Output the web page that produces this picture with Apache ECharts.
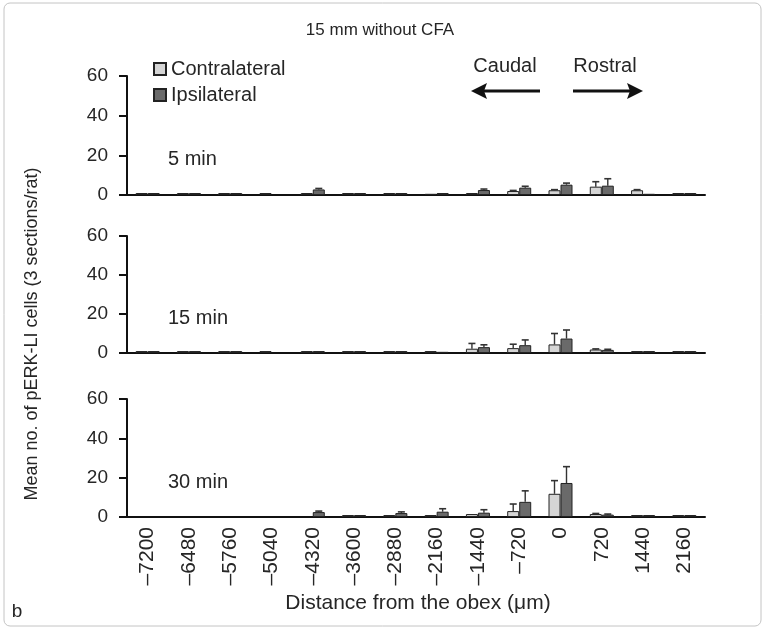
<!DOCTYPE html>
<html>
<head>
<meta charset="utf-8">
<script src="https://cdn.jsdelivr.net/npm/echarts@6/dist/echarts.min.js"></script>
<style>
  html, body { margin: 0; padding: 0; background: #fff; }
  #chart { width: 765px; height: 630px; }
</style>
</head>
<body>
<div id="chart"></div>
<script>
// distance from the obex (µm)
var categories = ['\u20137200', '\u20136480', '\u20135760', '\u20135040', '\u20134320', '\u20133600', '\u20132880',
                  '\u20132160', '\u20131440', '\u2013720', '0', '720', '1440', '2160'];
var panelNames = ['5 min', '15 min', '30 min'];

// 5 min
var contra5    = [1,   1,   1,   1,   1,   1,   1,   0.6, 1,   2.0, 2.4, 4.2, 2.4, 1];
var ipsi5      = [1,   1,   1,   0,   2.8, 1,   1,   1,   2.5, 3.7, 5.2, 4.7, 0.6, 1];
var contra5Err = [0,   0,   0,   0,   0,   0,   0,   0,   0,   0.3, 0.3, 2.5, 0.3, 0];
var ipsi5Err   = [0,   0,   0,   0,   0.5, 0,   0,   0,   0.5, 0.7, 0.8, 3.5, 0,   0];

// 15 min
var contra15    = [1, 1, 1, 1, 1, 1, 1, 1,   2.2, 2.5, 4.4, 1.8, 1, 1];
var ipsi15      = [1, 1, 1, 0, 1, 1, 1, 0.6, 3.0, 4.0, 7.4, 1.6, 1, 1];
var contra15Err = [0, 0, 0, 0, 0, 0, 0, 0,   2.7, 2.0, 5.6, 0.3, 0, 0];
var ipsi15Err   = [0, 0, 0, 0, 0, 0, 0, 0,   1.2, 2.7, 4.4, 0.3, 0, 0];

// 30 min
var contra30    = [0, 0, 0, 0, 0,   1, 1,   1,   1.5, 3.0, 11.8, 1.5, 1, 1];
var ipsi30      = [0, 0, 0, 0, 2.5, 1, 2.0, 2.7, 2.2, 7.7, 17.3, 1.2, 1, 1];
var contra30Err = [0, 0, 0, 0, 0,   0, 0,   0,   0,   3.6, 6.7,  0.3, 0, 0];
var ipsi30Err   = [0, 0, 0, 0, 0.5, 0, 0.6, 1.5, 1.5, 5.6, 8.3,  0.3, 0, 0];

var contraAll = [contra5, contra15, contra30];
var ipsiAll = [ipsi5, ipsi15, ipsi30];
var contraErrAll = [contra5Err, contra15Err, contra30Err];
var ipsiErrAll = [ipsi5Err, ipsi15Err, ipsi30Err];

var FONT = '"Liberation Sans", Arial, sans-serif';
var TXT = '#262626';
var LIGHT = '#d5d5d5', DARK = '#6a6a6a';
var BAR_W = 12;

var chart = echarts.init(document.getElementById('chart'));

var gridTops = [76, 236, 399];
var gridH = [119, 117, 118];

function toBar(arr) {
    return arr.map(function (v) { return v > 0 ? v : '-'; });
}

// error bars: upward line with a small cap
function errRender(shift) {
    return function (params, api) {
        var err = api.value(2);
        if (!(err > 0)) return;
        var top = api.coord([api.value(0), api.value(1) + err]);
        var base = api.coord([api.value(0), api.value(1)]);
        var x = base[0] + shift;
        return {
            type: 'group',
            children: [
                { type: 'line', shape: { x1: x, y1: base[1], x2: x, y2: top[1] },
                  style: { stroke: '#333', lineWidth: 1.4 } },
                { type: 'line', shape: { x1: x - 3.5, y1: top[1], x2: x + 3.5, y2: top[1] },
                  style: { stroke: '#333', lineWidth: 1.6 } }
            ]
        };
    };
}

var grids = [], xAxes = [], yAxes = [], series = [], graphics = [];
for (let i = 0; i < 3; i++) {
    grids.push({ left: 127, right: 60, top: gridTops[i], height: gridH[i] });
    xAxes.push({
        type: 'category', gridIndex: i, data: categories,
        axisLine: { lineStyle: { color: '#111', width: 2 } },
        axisTick: { show: false },
        axisLabel: i === 2 ? {
            rotate: 90, fontSize: 21, color: TXT, fontFamily: FONT, margin: 10
        } : { show: false },
        splitLine: { show: false }
    });
    yAxes.push({
        type: 'value', gridIndex: i, min: 0, max: 60, interval: 20,
        axisLine: { show: true, lineStyle: { color: '#111', width: 2 } },
        axisTick: { show: true, length: 8, lineStyle: { color: '#111', width: 2 } },
        axisLabel: { fontSize: 19, color: TXT, fontFamily: FONT, margin: 19 },
        splitLine: { show: false }
    });
    series.push({
        name: 'Contralateral', type: 'bar', xAxisIndex: i, yAxisIndex: i,
        data: toBar(contraAll[i]), barWidth: BAR_W, barGap: '0%',
        itemStyle: { color: LIGHT, borderColor: '#222', borderWidth: 1 },
        emphasis: { disabled: true }
    });
    series.push({
        name: 'Ipsilateral', type: 'bar', xAxisIndex: i, yAxisIndex: i,
        data: toBar(ipsiAll[i]), barWidth: BAR_W, barGap: '0%',
        itemStyle: { color: DARK, borderColor: '#222', borderWidth: 1 },
        emphasis: { disabled: true }
    });
    series.push({
        type: 'custom', xAxisIndex: i, yAxisIndex: i, z: 1,
        renderItem: errRender(-BAR_W / 2),
        data: contraAll[i].map(function (v, k) { return [k, v, contraErrAll[i][k]]; })
    });
    series.push({
        type: 'custom', xAxisIndex: i, yAxisIndex: i, z: 1,
        renderItem: errRender(BAR_W / 2),
        data: ipsiAll[i].map(function (v, k) { return [k, v, ipsiErrAll[i][k]]; })
    });
    // panel time label
    graphics.push({
        type: 'text', left: 168, top: gridTops[i] + [73, 72, 73][i],
        style: { text: panelNames[i], font: '20px ' + FONT, fill: TXT }
    });
}

// frame, titles, arrows
graphics.push({
    type: 'rect', shape: { x: 4, y: 3, width: 757, height: 623, r: 6 },
    style: { fill: 'none', stroke: '#c4c4c4', lineWidth: 1 }, z: -1
});
graphics.push({ type: 'text', x: 380, y: 30,
    style: { text: '15 mm without CFA', font: '17px ' + FONT, fill: TXT, align: 'center', verticalAlign: 'middle' } });
graphics.push({ type: 'text', x: 505, y: 66,
    style: { text: 'Caudal', font: '20px ' + FONT, fill: TXT, align: 'center', verticalAlign: 'middle' } });
graphics.push({ type: 'text', x: 605, y: 66,
    style: { text: 'Rostral', font: '20px ' + FONT, fill: TXT, align: 'center', verticalAlign: 'middle' } });
graphics.push({ type: 'line', shape: { x1: 484, y1: 91, x2: 540, y2: 91 },
    style: { stroke: '#111', lineWidth: 3 } });
graphics.push({ type: 'polygon', shape: { points: [[471, 91], [487, 83], [484, 91], [487, 99]] },
    style: { fill: '#111' } });
graphics.push({ type: 'line', shape: { x1: 573, y1: 91, x2: 630, y2: 91 },
    style: { stroke: '#111', lineWidth: 3 } });
graphics.push({ type: 'polygon', shape: { points: [[643, 91], [627, 83], [630, 91], [627, 99]] },
    style: { fill: '#111' } });
graphics.push({ type: 'text', x: 32, y: 334, rotation: Math.PI / 2,
    style: { text: 'Mean no. of pERK-LI cells (3 sections/rat)', font: '18px ' + FONT, fill: TXT,
             align: 'center', verticalAlign: 'middle' } });
graphics.push({ type: 'text', x: 418, y: 603,
    style: { text: 'Distance from the obex (\u03bcm)', font: '21px ' + FONT, fill: TXT,
             align: 'center', verticalAlign: 'middle' } });
graphics.push({ type: 'text', x: 17, y: 612,
    style: { text: 'b', font: '19px ' + FONT, fill: TXT, align: 'center', verticalAlign: 'middle' } });

var option = {
    backgroundColor: '#fff',
    animation: false,
    legend: {
        data: ['Contralateral', 'Ipsilateral'],
        orient: 'vertical', left: 153, top: 59, padding: 0,
        icon: 'rect', itemWidth: 12, itemHeight: 12, itemGap: 6,
        textStyle: { fontSize: 20, color: TXT, fontFamily: FONT }
    },
    grid: grids,
    xAxis: xAxes,
    yAxis: yAxes,
    series: series,
    graphic: graphics
};
chart.setOption(option);
</script>
</body>
</html>
